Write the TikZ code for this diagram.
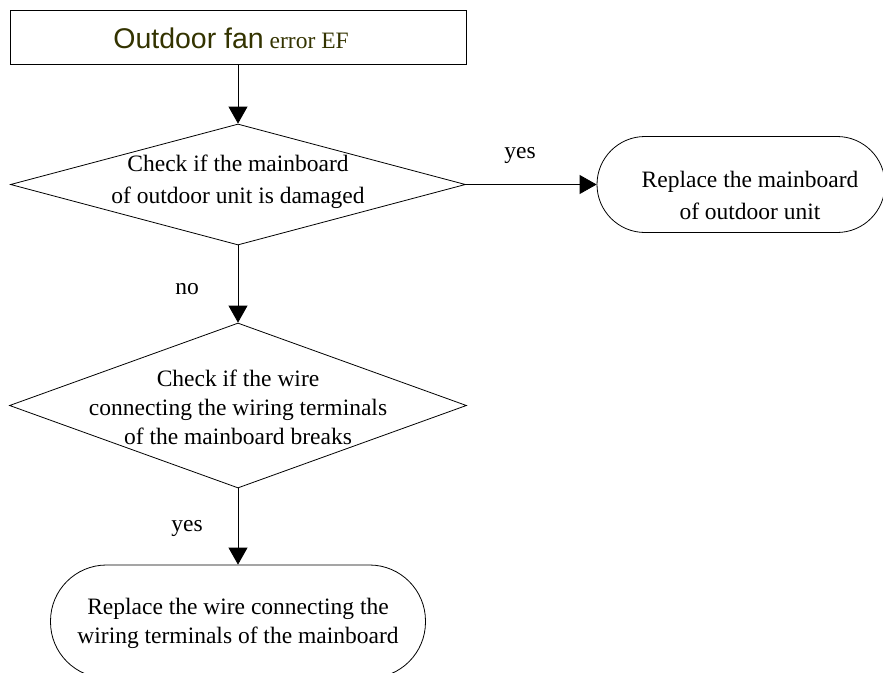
\documentclass[tikz,border=0pt]{standalone}
\usepackage{fontspec}
\setmainfont{Liberation Serif}
\newfontfamily\headsans{Liberation Sans}
\usetikzlibrary{shapes.geometric,arrows.meta}
\definecolor{headcol}{HTML}{333300}
\begin{document}
\begin{tikzpicture}[x=1pt,y=-1pt,
  every node/.style={font=\fontsize{23.5}{29}\selectfont},
  edge/.style={draw=black,line width=0.8pt,-{Triangle[length=17pt,width=19pt]}},
  titlebox/.style={draw,line width=0.8pt,rectangle,minimum width=456pt,minimum height=54pt,inner sep=0pt},
  decision/.style={draw,line width=0.8pt,diamond,inner sep=0pt},
  terminal/.style={draw,line width=0.8pt,rectangle,inner sep=0pt},
  txt/.style={align=center,inner sep=0pt},
  lbl/.style={inner sep=0pt}]
\useasboundingbox (0,0) rectangle (883,672);

% header
\node[titlebox] (head) at (238,37) {};
\node[txt,text=headcol] (headt) at (231,38)
  {{\headsans\fontsize{28.5}{30}\selectfont Outdoor fan} error EF};

% first decision
\node[decision,minimum width=455pt,minimum height=121pt] (d1) at (238,184.5) {};
\node[txt] (d1t) at (238,182) {Check if the mainboard\\[3pt]of outdoor unit is damaged};

% replace mainboard
\node[terminal,minimum width=288pt,minimum height=96pt,rounded corners=48pt] (r1) at (741,184.5) {};
\node[txt] (r1t) at (750,195) {Replace the mainboard\\[3pt]of outdoor unit};

% second decision
\node[decision,minimum width=457pt,minimum height=165pt] (d2) at (238,405.5) {};
\node[txt] (d2t) at (238,407) {Check if the wire\\connecting the wiring terminals\\of the mainboard breaks};

% replace wire
\node[terminal,minimum width=375pt,minimum height=113pt,rounded corners=56pt] (r2) at (238,621.5) {};
\node[txt] (r2t) at (238,623) {Replace the wire connecting the\\wiring terminals of the mainboard};

% connectors
\draw[edge] (head.south) -- (d1.north);
\draw[edge] (d1.east) -- (r1.west);
\draw[edge] (d1.south) -- (d2.north);
\draw[edge] (d2.south) -- (r2.north);

% branch labels
\node[lbl] (yes1) at (520,155) {yes};
\node[lbl] (no1) at (187,289) {no};
\node[lbl] (yes2) at (187,528) {yes};
\end{tikzpicture}
\end{document}
